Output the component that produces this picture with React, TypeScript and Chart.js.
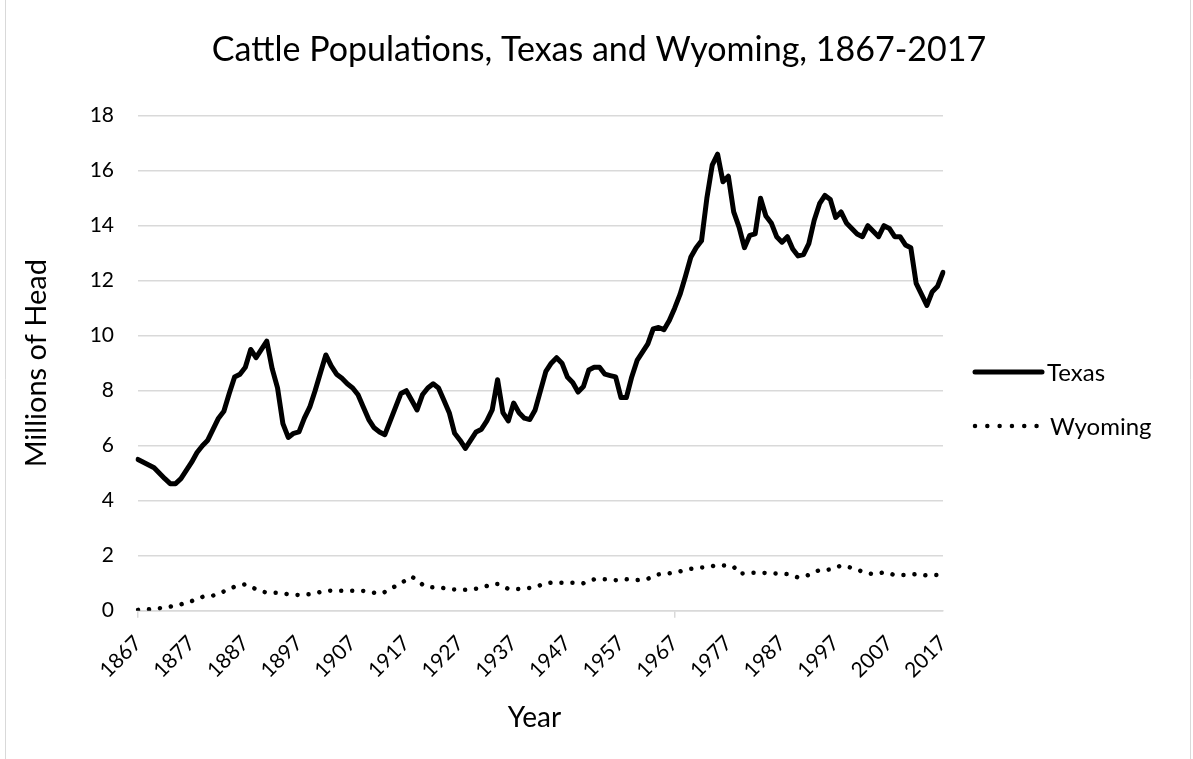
import React, { useEffect, useRef } from 'react';
import { Chart, registerables } from 'chart.js';

Chart.register(...registerables);

const years: string[] = [
  '1867','1868','1869','1870','1871','1872','1873','1874','1875','1876',
  '1877','1878','1879','1880','1881','1882','1883','1884','1885','1886',
  '1887','1888','1889','1890','1891','1892','1893','1894','1895','1896',
  '1897','1898','1899','1900','1901','1902','1903','1904','1905','1906',
  '1907','1908','1909','1910','1911','1912','1913','1914','1915','1916',
  '1917','1918','1919','1920','1921','1922','1923','1924','1925','1926',
  '1927','1928','1929','1930','1931','1932','1933','1934','1935','1936',
  '1937','1938','1939','1940','1941','1942','1943','1944','1945','1946',
  '1947','1948','1949','1950','1951','1952','1953','1954','1955','1956',
  '1957','1958','1959','1960','1961','1962','1963','1964','1965','1966',
  '1967','1968','1969','1970','1971','1972','1973','1974','1975','1976',
  '1977','1978','1979','1980','1981','1982','1983','1984','1985','1986',
  '1987','1988','1989','1990','1991','1992','1993','1994','1995','1996',
  '1997','1998','1999','2000','2001','2002','2003','2004','2005','2006',
  '2007','2008','2009','2010','2011','2012','2013','2014','2015','2016',
  '2017',
];

// Millions of head, Texas
const texas: number[] = [
  5.5, 5.4, 5.3, 5.2, 5.0, 4.8, 4.62, 4.62, 4.8, 5.1,
  5.4, 5.75, 6.0, 6.2, 6.6, 7.0, 7.25, 7.9, 8.5, 8.6,
  8.85, 9.5, 9.2, 9.5, 9.8, 8.8, 8.1, 6.8, 6.3, 6.45,
  6.5, 7.0, 7.4, 8.0, 8.65, 9.3, 8.9, 8.6, 8.45, 8.25,
  8.1, 7.85, 7.4, 6.95, 6.65, 6.5, 6.4, 6.9, 7.4, 7.9,
  8.0, 7.65, 7.3, 7.85, 8.1, 8.25, 8.1, 7.65, 7.2, 6.45,
  6.2, 5.9, 6.2, 6.5, 6.6, 6.9, 7.3, 8.4, 7.2, 6.9,
  7.55, 7.2, 7.0, 6.95, 7.3, 8.0, 8.7, 9.0, 9.2, 9.0,
  8.5, 8.3, 7.95, 8.15, 8.75, 8.85, 8.85, 8.6, 8.55, 8.5,
  7.75, 7.75, 8.5, 9.1, 9.4, 9.7, 10.25, 10.3, 10.22, 10.55,
  11.0, 11.5, 12.15, 12.85, 13.2, 13.45, 15.0, 16.2, 16.6, 15.6,
  15.8, 14.5, 13.95, 13.2, 13.65, 13.7, 15.0, 14.35, 14.1, 13.6,
  13.4, 13.6, 13.15, 12.9, 12.95, 13.35, 14.2, 14.8, 15.1, 14.95,
  14.3, 14.5, 14.1, 13.9, 13.7, 13.6, 14.0, 13.8, 13.6, 14.0,
  13.9, 13.6, 13.6, 13.3, 13.2, 11.9, 11.5, 11.1, 11.6, 11.8,
  12.3,
];

// Millions of head, Wyoming
const wyoming: number[] = [
  0.03, 0.04, 0.05, 0.07, 0.09, 0.12, 0.15, 0.19, 0.23, 0.29,
  0.35, 0.42, 0.5, 0.53, 0.55, 0.63, 0.7, 0.8, 0.87, 0.92,
  0.96, 0.88, 0.78, 0.7, 0.66, 0.65, 0.65, 0.63, 0.6, 0.58,
  0.57, 0.58, 0.6, 0.63, 0.68, 0.72, 0.73, 0.73, 0.73, 0.73,
  0.73, 0.73, 0.72, 0.69, 0.65, 0.61, 0.68, 0.78, 0.9, 1.0,
  1.12, 1.24, 1.12, 0.95, 0.86, 0.85, 0.85, 0.82, 0.78, 0.77,
  0.75, 0.76, 0.78, 0.8, 0.84, 0.9, 0.98, 0.97, 0.86, 0.8,
  0.78, 0.79, 0.8, 0.83, 0.86, 0.93, 1.0, 1.02, 1.02, 1.02,
  1.02, 1.02, 1.01, 1.0, 1.07, 1.14, 1.14, 1.14, 1.13, 1.11,
  1.12, 1.14, 1.13, 1.11, 1.13, 1.16, 1.25, 1.32, 1.34, 1.36,
  1.39, 1.43, 1.48, 1.52, 1.54, 1.57, 1.58, 1.62, 1.66, 1.65,
  1.63, 1.6, 1.35, 1.36, 1.38, 1.38, 1.38, 1.37, 1.36, 1.35,
  1.34, 1.33, 1.27, 1.21, 1.25, 1.3, 1.39, 1.48, 1.48, 1.5,
  1.57, 1.64, 1.6, 1.56, 1.49, 1.42, 1.36, 1.33, 1.36, 1.39,
  1.35, 1.3, 1.3, 1.3, 1.31, 1.33, 1.3, 1.28, 1.29, 1.3,
  1.3,
];

const xTickLabels: string[] = [
  '1867','1877','1887','1897','1907','1917','1927','1937',
  '1947','1957','1967','1977','1987','1997','2007','2017',
];
const yTicks: number[] = [0, 2, 4, 6, 8, 10, 12, 14, 16, 18];

const TITLE = 'Cattle Populations, Texas and Wyoming, 1867-2017';
const Y_TITLE = 'Millions of Head';
const X_TITLE = 'Year';
const SERIES_NAMES: string[] = ['Texas', 'Wyoming'];

const FONT = 'Lato, "Open Sans", sans-serif';
const W = 1193;
const H = 759;

const decorPlugin = {
  id: 'decor',
  afterDraw(chart: any) {
    const ctx: CanvasRenderingContext2D = chart.ctx;
    const area = chart.chartArea;
    ctx.save();
    // chart frame
    ctx.strokeStyle = '#d9d9d9';
    ctx.lineWidth = 1;
    ctx.beginPath();
    ctx.moveTo(5.5, 0);
    ctx.lineTo(5.5, H);
    ctx.moveTo(1190.5, 0);
    ctx.lineTo(1190.5, H);
    ctx.stroke();

    ctx.fillStyle = '#000';
    // title
    ctx.font = `34px ${FONT}`;
    ctx.textAlign = 'center';
    ctx.textBaseline = 'middle';
    ctx.fillText(TITLE, 599, 50);

    // axis titles
    ctx.font = `28px ${FONT}`;
    ctx.fillText(X_TITLE, (area.left + area.right) / 2 - 6, 718);
    ctx.save();
    ctx.font = `29px ${FONT}`;
    ctx.translate(37, (area.top + area.bottom) / 2);
    ctx.rotate(-Math.PI / 2);
    ctx.fillText(Y_TITLE, 0, 0);
    ctx.restore();

    // legend
    ctx.strokeStyle = '#000';
    ctx.lineCap = 'round';
    ctx.lineWidth = 5;
    ctx.beginPath();
    ctx.moveTo(975, 372);
    ctx.lineTo(1042, 372);
    ctx.stroke();

    ctx.lineWidth = 4.5;
    ctx.setLineDash([0.01, 12.3]);
    ctx.beginPath();
    ctx.moveTo(975, 426);
    ctx.lineTo(1037, 426);
    ctx.stroke();
    ctx.setLineDash([]);

    ctx.font = `24px ${FONT}`;
    ctx.textAlign = 'left';
    ctx.fillText(SERIES_NAMES[0], 1047, 373);
    ctx.fillText(SERIES_NAMES[1], 1050, 427);
    ctx.restore();
  },
};

export default function App() {
  const canvasRef = useRef<HTMLCanvasElement | null>(null);

  useEffect(() => {
    if (!canvasRef.current) return;
    const chart = new Chart(canvasRef.current, {
      type: 'line',
      data: {
        labels: years,
        datasets: [
          {
            label: SERIES_NAMES[0],
            data: texas,
            borderColor: '#000',
            borderWidth: 5,
            borderJoinStyle: 'round',
            borderCapStyle: 'round',
            pointRadius: 0,
            tension: 0,
            fill: false,
          },
          {
            label: SERIES_NAMES[1],
            data: wyoming,
            borderColor: '#000',
            borderWidth: 4.5,
            borderDash: [0.01, 11],
            borderCapStyle: 'round',
            pointRadius: 0,
            tension: 0,
            fill: false,
          },
        ],
      },
      options: {
        responsive: false,
        animation: false,
        devicePixelRatio: 1,
        layout: { padding: { left: 0, top: 115.7, right: W - 943, bottom: 0 } },
        plugins: {
          legend: { display: false },
          title: { display: false },
          tooltip: { enabled: false },
        },
        scales: {
          x: {
            type: 'category',
            offset: false,
            grid: {
              drawOnChartArea: false,
              drawTicks: true,
              tickLength: 7,
              lineWidth: 1.5,
              color: (c: any) => (xTickLabels.includes(years[c.index]) ? '#d9d9d9' : 'rgba(0,0,0,0)'),
            },
            border: { display: true, color: '#d9d9d9', width: 1.5 },
            ticks: {
              autoSkip: false,
              minRotation: 45,
              maxRotation: 45,
              padding: 13,
              color: '#000',
              font: { family: FONT, size: 21 },
              callback: (_v: any, i: number) => (xTickLabels.includes(years[i]) ? years[i] : null),
            },
            afterFit: (s: any) => {
              s.height = H - 610.7;
            },
          },
          y: {
            min: 0,
            max: 18,
            afterBuildTicks: (s: any) => {
              s.ticks = yTicks.map((v) => ({ value: v }));
            },
            ticks: {
              padding: 24,
              color: '#000',
              font: { family: FONT, size: 21 },
            },
            grid: { color: '#d9d9d9', lineWidth: 1.5, drawTicks: false },
            border: { display: false },
            afterFit: (s: any) => {
              s.width = 138;
            },
          },
        },
      },
      plugins: [decorPlugin],
    });
    return () => chart.destroy();
  }, []);

  return (
    <div style={{ position: 'absolute', left: 0, top: 0, width: W, height: H, background: '#fff' }}>
      <canvas ref={canvasRef} width={W} height={H} style={{ display: 'block' }} />
    </div>
  );
}
